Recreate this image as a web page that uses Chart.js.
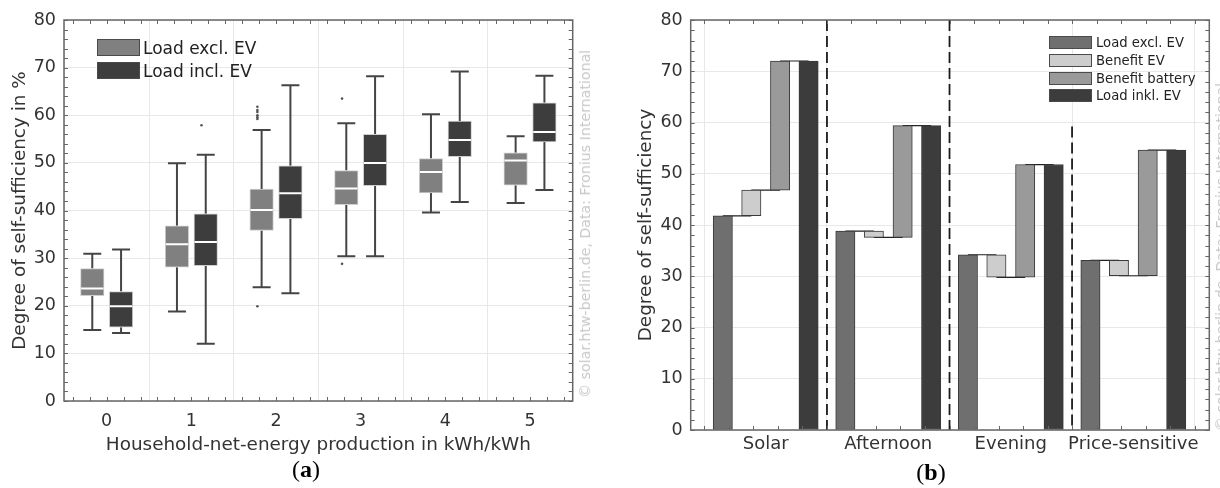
<!DOCTYPE html>
<html><head><meta charset="utf-8">
<script src="https://cdn.jsdelivr.net/npm/chart.js@4.4.1/dist/chart.umd.min.js"></script>
<style>
html,body{margin:0;padding:0;background:#fff;width:1220px;height:488px;overflow:hidden;position:relative;font-family:'DejaVu Sans',sans-serif;}
#ca{position:absolute;left:0;top:0;}
#cb{position:absolute;left:600px;top:0;}
.leg{position:absolute;display:flex;align-items:center;color:#222;white-space:nowrap;}
.sw{box-sizing:border-box;border:1px solid #4a4a4a;}
.wm{position:absolute;color:#c8c8c8;white-space:nowrap;transform:translate(-50%,-50%) rotate(-90deg);font-size:14.2px;}
.cap{position:absolute;font-family:'Liberation Serif',serif;font-size:24px;transform:translate(-50%,-50%);color:#000;white-space:nowrap;}
</style></head>
<body>
<canvas id="ca" width="600" height="488"></canvas>
<canvas id="cb" width="620" height="488"></canvas>
<div id="legA"></div><div id="legB"></div>
<div class="wm" style="left:585px;top:224px;">© solar.htw-berlin.de, Data: Fronius International</div>
<div class="wm" style="left:1221px;top:257px;">© solar.htw-berlin.de, Data: Fronius International</div>
<div class="cap" style="left:306px;top:469px;">(<b>a</b>)</div>
<div class="cap" style="left:931px;top:472px;">(<b>b</b>)</div>
<script>
// ---------- Data (a) ----------
const groupsA = [0, 1, 2, 3, 4, 5];
const seriesA = ['Load excl. EV', 'Load incl. EV'];
const exclWhiskerLow  = [14.9, 18.8, 23.9, 30.4, 39.6, 41.6];
const exclQ1          = [22.1, 28.1, 35.8, 41.2, 43.7, 45.3];
const exclMedian      = [23.6, 32.9, 40.1, 44.6, 48.1, 50.5];
const exclQ3          = [27.8, 36.8, 44.5, 48.4, 50.9, 52.1];
const exclWhiskerHigh = [30.9, 49.9, 56.9, 58.3, 60.2, 55.6];
const exclOutliers    = [[], [], [61.8, 61.1, 60.7, 60.0, 59.6, 59.2, 19.9], [63.5, 28.8], [], []];
const inclWhiskerLow  = [14.3, 12.0, 22.6, 30.4, 41.8, 44.3];
const inclQ1          = [15.5, 28.4, 38.3, 45.2, 51.3, 54.4];
const inclMedian      = [19.9, 33.4, 43.6, 50.0, 54.8, 56.5];
const inclQ3          = [23.0, 39.3, 49.4, 56.0, 58.8, 62.6];
const inclWhiskerHigh = [31.8, 51.7, 66.3, 68.2, 69.2, 68.3];
const inclOutliers    = [[], [57.9], [], [], [], []];
const yTicksA = [0, 10, 20, 30, 40, 50, 60, 70, 80];

// ---------- Data (b) ----------
const scenarios      = ['Solar', 'Afternoon', 'Evening', 'Price-sensitive'];
const seriesB        = ['Load excl. EV', 'Benefit EV', 'Benefit battery', 'Load inkl. EV'];
const loadExclEV     = [41.8, 38.8, 34.2, 33.1];
const benefitEV      = [5.0, -1.2, -4.4, -3.0];
const benefitBattery = [25.2, 21.8, 22.0, 24.5];
const loadInclEV     = [72.0, 59.4, 51.8, 54.6];
const separators     = [0.5, 1.5, 2.5];
const separatorTops  = [80, 80, 59.2];
const yTicksB = [0, 10, 20, 30, 40, 50, 60, 70, 80];

// ---------- styles ----------
Chart.defaults.font.family = "'DejaVu Sans', sans-serif";
Chart.defaults.color = '#333';
const GRID = '#e8e8e8';
const colA = ['#808080', '#3d3d3d'];
const colB = ['#6f6f6f', '#cdcdcd', '#9a9a9a', '#3c3c3c'];

const framePlugin = {
  id: 'frame',
  afterDraw(chart, args, o) {
    const {ctx, chartArea: a, scales: {x, y}} = chart;
    ctx.save();
    ctx.strokeStyle = o.color;
    ctx.lineWidth = 1;
    ctx.beginPath();
    for (let v = y.min; v <= y.max + 1e-9; v += o.yStep) {
      const py = Math.round(y.getPixelForValue(v)) + 0.5;
      ctx.moveTo(a.left, py); ctx.lineTo(a.left + o.len, py);
      ctx.moveTo(a.right, py); ctx.lineTo(a.right - o.len, py);
    }
    for (let v = o.xStart; v <= x.max + 1e-9; v += o.xStep) {
      const px = Math.round(x.getPixelForValue(v)) + 0.5;
      ctx.moveTo(px, a.top); ctx.lineTo(px, a.top + o.len);
      ctx.moveTo(px, a.bottom); ctx.lineTo(px, a.bottom - o.len);
    }
    ctx.stroke();
    ctx.lineWidth = o.width;
    ctx.strokeRect(a.left, a.top, a.right - a.left, a.bottom - a.top);
    ctx.restore();
  }
};

// ---------- Chart (a) ----------
const OFF = 0.17;
const statsA = [
  {off: -OFF, lo: exclWhiskerLow, q1: exclQ1, med: exclMedian, q3: exclQ3, hi: exclWhiskerHigh, out: exclOutliers},
  {off:  OFF, lo: inclWhiskerLow, q1: inclQ1, med: inclMedian, q3: inclQ3, hi: inclWhiskerHigh, out: inclOutliers}
];
const dsA = [];
statsA.forEach((s, k) => {
  dsA.push({type: 'bar', label: seriesA[k], order: 2, grouped: false, barThickness: 23.5,
    backgroundColor: colA[k], borderColor: '#cfcfcf', borderWidth: 1, borderSkipped: false,
    data: groupsA.map((g, i) => ({x: g + s.off, y: [s.q1[i], s.q3[i]]}))});
  const wl = [];
  groupsA.forEach((g, i) => {
    wl.push({x: g + s.off, y: s.lo[i]}, {x: g + s.off, y: s.q1[i]}, {x: g + s.off, y: null},
            {x: g + s.off, y: s.q3[i]}, {x: g + s.off, y: s.hi[i]}, {x: g + s.off, y: null});
  });
  dsA.push({type: 'line', order: 3, data: wl, borderColor: '#444', borderWidth: 2, pointRadius: 0, spanGaps: false, fill: false});
  const caps = [];
  groupsA.forEach((g, i) => { caps.push({x: g + s.off, y: s.lo[i]}, {x: g + s.off, y: s.hi[i]}); });
  dsA.push({type: 'scatter', order: 1, data: caps, pointStyle: 'line', pointRadius: 9, pointBorderWidth: 2, borderColor: '#444', pointHoverRadius: 9});
  dsA.push({type: 'scatter', order: 0, data: groupsA.map((g, i) => ({x: g + s.off, y: s.med[i]})),
    pointStyle: 'line', pointRadius: 11.2, pointBorderWidth: 2, borderColor: '#ffffff', pointHoverRadius: 11.2});
  const outs = [];
  groupsA.forEach((g, i) => s.out[i].forEach(v => outs.push({x: g + s.off - 0.05, y: v})));
  dsA.push({type: 'scatter', order: 1, data: outs, pointRadius: 1.3, backgroundColor: '#555', borderColor: '#555', borderWidth: 0});
});

new Chart(document.getElementById('ca'), {
  type: 'bar',
  data: {datasets: dsA},
  plugins: [framePlugin],
  options: {
    responsive: false, animation: false, events: [],
    layout: {padding: {left: 0, top: 20, right: 27.3, bottom: 27}},
    plugins: {legend: {display: false}, tooltip: {enabled: false},
      frame: {color: '#666', width: 1.5, len: 4, yStep: 2, xStart: -0.4, xStep: 0.2}},
    scales: {
      x: {type: 'linear', min: -0.504, max: 5.504, offset: false,
        afterBuildTicks: s => { s.ticks = groupsA.map(v => ({value: v})); },
        afterFit: s => { s.height = 60; },
        grid: {color: GRID, drawTicks: false}, border: {display: false},
        ticks: {padding: 10, font: {size: 17.5}, color: '#333', callback: v => String(v)},
        title: {display: true, text: 'Household-net-energy production in kWh/kWh', font: {size: 18.4}, color: '#333', padding: {top: 0, bottom: 5}}},
      y: {type: 'linear', min: 0, max: 80,
        afterBuildTicks: s => { s.ticks = yTicksA.map(v => ({value: v})); },
        afterFit: s => { s.width = 64; },
        grid: {color: GRID, drawTicks: false}, border: {display: false},
        ticks: {padding: 8, font: {size: 17.5}, color: '#333'},
        title: {display: true, text: 'Degree of self-sufficiency in %', font: {size: 18.4}, color: '#333', padding: {top: 9.4, bottom: 0}}}
    }
  }
});

// ---------- Chart (b) ----------
const BOFF = [-0.350, -0.1175, 0.1175, 0.350];
const lvl1 = loadExclEV;
const lvl2 = loadExclEV.map((v, i) => v + benefitEV[i]);
const ranges = [
  scenarios.map((c, i) => [0, loadExclEV[i]]),
  scenarios.map((c, i) => [loadExclEV[i], lvl2[i]]),
  scenarios.map((c, i) => [lvl2[i], lvl2[i] + benefitBattery[i]]),
  scenarios.map((c, i) => [0, loadInclEV[i]])
];
const dsB = [];
ranges.forEach((r, k) => {
  dsB.push({type: 'bar', label: seriesB[k], order: 1, grouped: false, barThickness: 19.3,
    backgroundColor: colB[k], borderColor: '#3a3a3a', borderWidth: 1, borderSkipped: false,
    data: scenarios.map((c, i) => ({x: i + BOFF[k], y: r[i]}))});
});
const conn = [];
scenarios.forEach((c, i) => {
  const L = [lvl1[i], lvl2[i], loadInclEV[i]];
  for (let k = 0; k < 3; k++) {
    conn.push({x: i + BOFF[k], y: L[k]}, {x: i + BOFF[k + 1], y: L[k]}, {x: i + BOFF[k + 1], y: null});
  }
});
dsB.push({type: 'line', order: 2, data: conn, borderColor: '#222', borderWidth: 1.2, pointRadius: 0, spanGaps: false, fill: false});
const sep = [];
separators.forEach((s, i) => { sep.push({x: s, y: separatorTops[i]}, {x: s, y: 0}, {x: s, y: null}); });
dsB.push({type: 'line', order: 0, data: sep, borderColor: '#1a1a1a', borderWidth: 1.8, borderDash: [11, 5], pointRadius: 0, spanGaps: false, fill: false});

new Chart(document.getElementById('cb'), {
  type: 'bar',
  data: {datasets: dsB},
  plugins: [framePlugin],
  options: {
    responsive: false, animation: false, events: [],
    layout: {padding: {left: 0, top: 20, right: 10.7, bottom: 8}},
    plugins: {legend: {display: false}, tooltip: {enabled: false},
      frame: {color: '#666', width: 1.5, len: 4, yStep: 2, xStart: -0.5, xStep: 0.2}},
    scales: {
      x: {type: 'linear', min: -0.612, max: 3.620, offset: false,
        afterBuildTicks: s => { s.ticks = scenarios.map((c, i) => ({value: i})); },
        afterFit: s => { s.height = 50; },
        grid: {color: GRID, drawTicks: false}, border: {display: false},
        ticks: {padding: 4, font: {size: 18}, color: '#333', callback: v => scenarios[v]}},
      y: {type: 'linear', min: 0, max: 80,
        afterBuildTicks: s => { s.ticks = yTicksB.map(v => ({value: v})); },
        afterFit: s => { s.width = 90.7; },
        grid: {color: GRID, drawTicks: false}, border: {display: false},
        ticks: {padding: 8, font: {size: 17.5}, color: '#333'},
        title: {display: true, text: 'Degree of self-sufficiency', font: {size: 18.4}, color: '#333', padding: {top: 35, bottom: 0}}}
    }
  }
});

// ---------- HTML legends ----------
function legend(el, names, cols, x, y, boxW, boxH, gap, font, textX) {
  names.forEach((n, i) => {
    const d = document.createElement('div');
    d.className = 'leg';
    d.style.left = x + 'px';
    d.style.top = (y + i * gap) + 'px';
    d.style.height = boxH + 'px';
    d.style.fontSize = font + 'px';
    d.innerHTML = '<div class="sw" style="width:' + boxW + 'px;height:' + boxH + 'px;background:' + cols[i] + '"></div><span style="margin-left:' + textX + 'px">' + n + '</span>';
    el.appendChild(d);
  });
}
legend(document.getElementById('legA'), seriesA, colA, 97, 39, 43, 17, 23, 17, 3);
legend(document.getElementById('legB'), seriesB, colB, 1049, 36, 43, 13, 17.8, 13.2, 4);
</script>
</body></html>
